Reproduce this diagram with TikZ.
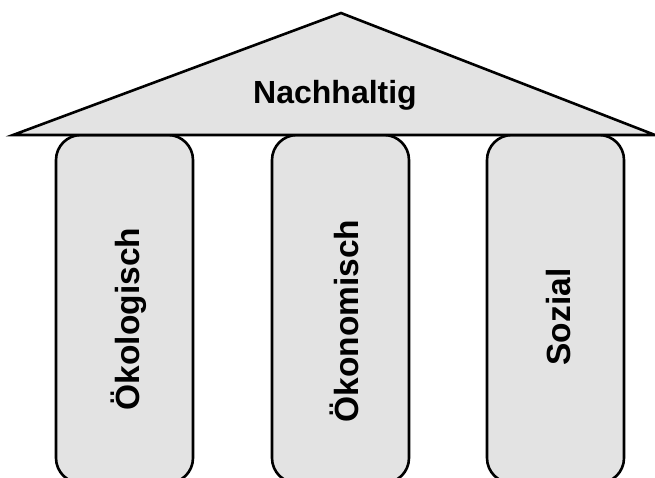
\documentclass[tikz,border=0pt]{standalone}
\usepackage{fontspec}
\setmainfont{Liberation Sans}
\definecolor{pillgray}{HTML}{E3E3E3}
\tikzset{
  pillar/.style={draw=black, line width=2.6pt, fill=pillgray, rounded corners=25pt, minimum width=137pt, minimum height=348pt, inner sep=0pt},
  roof/.style={draw=black, line width=2.6pt, fill=pillgray, line join=miter},
  lbl/.style={font=\bfseries\fontsize{32}{36}\selectfont, inner sep=0pt},
  vlbl/.style={font=\bfseries\fontsize{33.5}{38}\selectfont, inner sep=0pt, rotate=90}
}
\begin{document}
\begin{tikzpicture}[x=1pt,y=-1pt]
\useasboundingbox (0,0) rectangle (655,477);
\clip (0,0) rectangle (655,477);
\node[pillar] (p1) at (124.5,309) {};
\node[pillar] (p2) at (340.5,309) {};
\node[pillar] (p3) at (555.5,309) {};
\coordinate (rl) at (13,135);
\coordinate (ra) at (341,13);
\coordinate (rr) at (655,135);
\draw[roof] (rl) -- (ra) -- (rr) -- cycle;
\node[lbl, anchor=base] (t0) at (335,103) {Nachhaltig};
\node[vlbl] (t1) at (129,319) {Ökologisch};
\node[vlbl] (t2) at (344,321) {Ökonomisch};
\node[vlbl] (t3) at (559,317) {Sozial};
\end{tikzpicture}
\end{document}
